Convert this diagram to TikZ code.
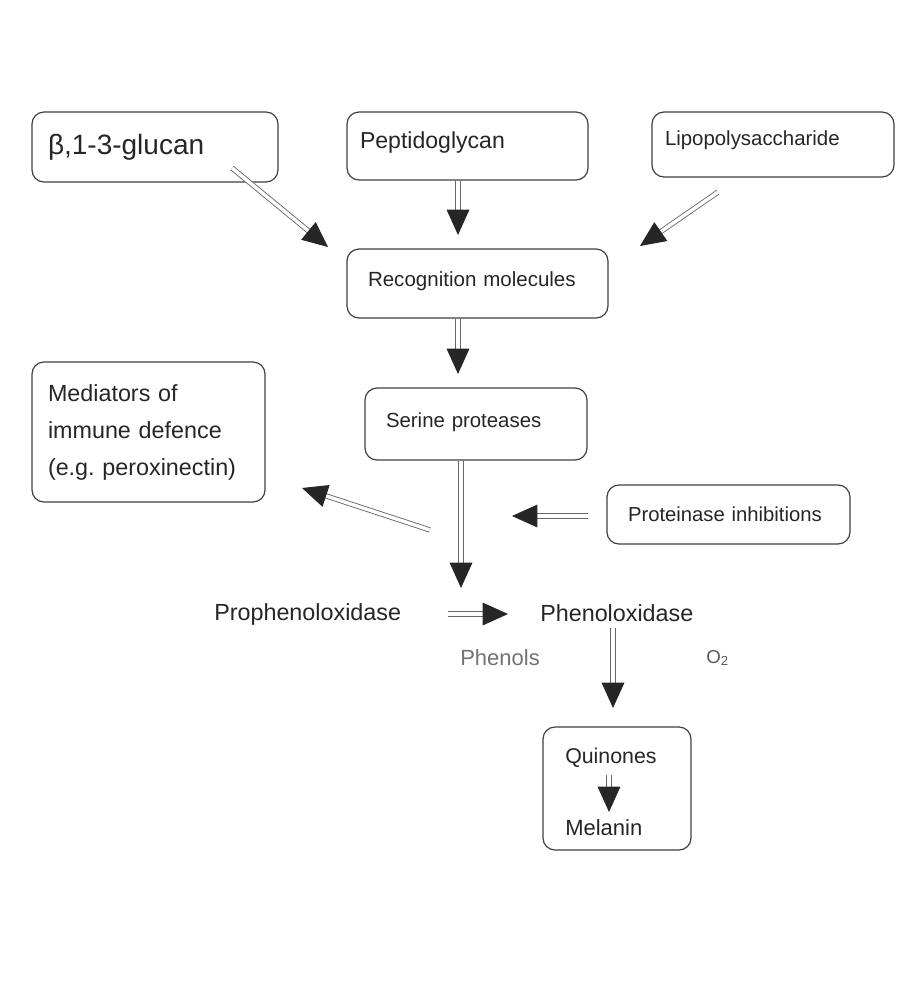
\documentclass[tikz,border=0pt]{standalone}
\usepackage{fontspec}
\setmainfont{Liberation Sans}
\usetikzlibrary{arrows.meta}
\tikzset{
  box/.style={draw=black!75, line width=0.9pt, rounded corners=9pt, align=left, text=black!85, inner ysep=0pt},
  plain/.style={inner sep=0pt, anchor=west, text=black!85},
  dar/.style={draw=black!60, double=white, double distance=2.6pt, line width=0.65pt,
    -{Triangle[length=19pt,width=17pt,fill=black!85,color=black!85]}},
}
\begin{document}
\frenchspacing
\begin{tikzpicture}[x=0.75pt,y=-0.75pt]
\useasboundingbox[fill=white] (0,0) rectangle (923,990);
% boxes
\node[box, minimum height=52.5pt, text width=160.5pt, inner xsep=12pt, font=\fontsize{21}{24}\selectfont] (glucan) at (155,147) {β,1-3-glucan};
\node[box, minimum height=51pt, text width=161.25pt, inner xsep=9.75pt, text depth=9.5pt, font=\fontsize{17.3}{20}\selectfont] (pepti) at (467.5,146) {Peptidoglycan};
\node[box, minimum height=48.75pt, text width=162pt, inner xsep=9.75pt, text depth=9pt, font=\fontsize{15.3}{18}\selectfont] (lipo) at (773,144.5) {Lipopolysaccharide};
\node[box, minimum height=51.75pt, text width=164.25pt, inner xsep=15.75pt, text depth=6pt, font=\fontsize{15.4}{18}\selectfont] (recog) at (477.5,283.5) {Recognition molecules};
\node[box, minimum height=54pt, text width=135pt, inner xsep=15.75pt, text depth=6pt, font=\fontsize{15.3}{18}\selectfont] (serine) at (476,424) {Serine proteases};
\node[box, minimum height=105pt, text width=150.75pt, inner xsep=12pt, font=\fontsize{17.5}{27.75}\selectfont] (medi) at (148.5,432) {Mediators of\\immune defence\\(e.g. peroxinectin)};
\node[box, minimum height=44.25pt, text width=150.75pt, inner xsep=15.75pt, font=\fontsize{15.2}{18}\selectfont] (prot) at (728.5,514.5) {Proteinase inhibitions};
\node[box, minimum width=111pt, minimum height=92.25pt] (quin) at (617,788.5) {};
\node[plain, font=\fontsize{16}{19}\selectfont] (quinT) at (565,758) {Quinones};
\node[plain, font=\fontsize{16.5}{19}\selectfont] (mela) at (565,828) {Melanin};
% free text
\node[plain, font=\fontsize{17.5}{20}\selectfont] (proph) at (214,614) {Prophenoloxidase};
\node[plain, font=\fontsize{17.5}{20}\selectfont] (phen) at (540,613) {Phenoloxidase};
\node[plain, text=black!55, font=\fontsize{16.5}{20}\selectfont] (phenols) at (460,658) {Phenols};
\node[plain, text=black!65, font=\fontsize{14}{18}\selectfont] (oxy) at (706,658) {O\textsubscript{2}};
% arrow end points
\coordinate (a1s) at (232,168); \coordinate (a1e) at (328,247);
\coordinate (a2s) at (458,181); \coordinate (a2e) at (458,235);
\coordinate (a3s) at (718,192); \coordinate (a3e) at (640,246);
\coordinate (a4s) at (458,319); \coordinate (a4e) at (458,374);
\coordinate (a5s) at (461,461); \coordinate (a5e) at (461,588);
\coordinate (a6s) at (430,530); \coordinate (a6e) at (302,488);
\coordinate (a7s) at (588,516); \coordinate (a7e) at (512,516);
\coordinate (a8s) at (448,614); \coordinate (a8e) at (508,614);
\coordinate (a9s) at (613,628); \coordinate (a9e) at (613,708);
\coordinate (a10s) at (609,775); \coordinate (a10e) at (609,812);
\foreach \i in {1,...,10} { \draw[dar] (a\i s) -- (a\i e); }
\end{tikzpicture}
\end{document}
